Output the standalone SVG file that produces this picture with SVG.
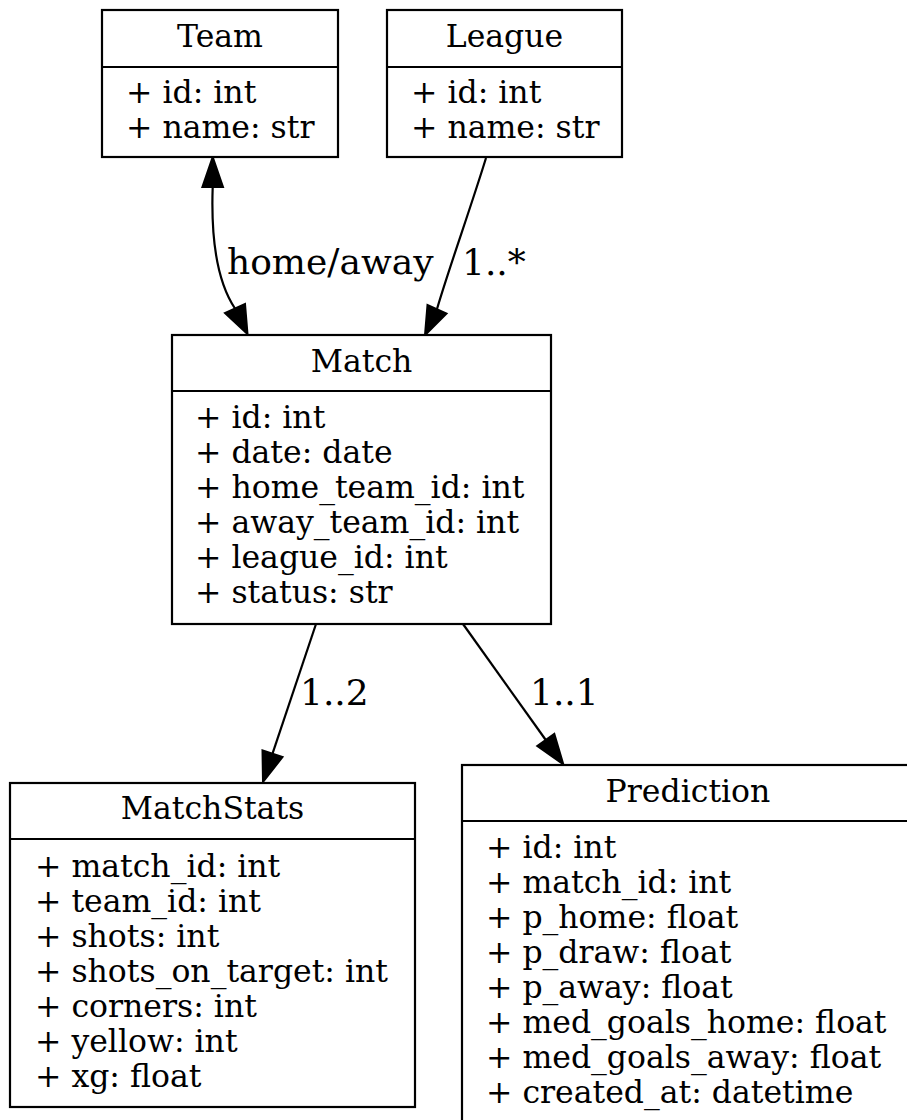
<svg xmlns="http://www.w3.org/2000/svg" width="907" height="1120" viewBox="0 0 907 1120">
  <style>
    .box { fill: #ffffff; stroke: #000000; stroke-width: 2.2; }
    .sep { stroke: #000000; stroke-width: 2.2; }
    .edge { fill: none; stroke: #000000; stroke-width: 2.2; }
    .head { fill: #000000; stroke: #000000; stroke-width: 2; stroke-linejoin: miter; }
    text { font-family: "DejaVu Serif", "Liberation Serif", serif; font-size: 31.5px; fill: #000000; }
    .title { text-anchor: middle; }
    .lbl { font-size: 36px; }
  </style>
  <rect x="0" y="0" width="907" height="1120" fill="#ffffff"/>

  <g id="connectors">
    <!-- Team <-> Match -->
    <path class="edge" d="M212.7,187 C211,235 216,280 235,308.5"/>
    <polygon class="head" points="212.7,157 223,187 202.4,187"/>
    <polygon class="head" points="247.5,334 225,313 245,304"/>
    <text class="lbl" x="227" y="274">home/away</text>
    <!-- League -> Match -->
    <path class="edge" d="M486,158 C470,210 450,265 437,309"/>
    <polygon class="head" points="425,335 427.5,305 446.5,313.5"/>
    <text class="lbl" x="462" y="275">1..*</text>
    <!-- Match -> MatchStats -->
    <path class="edge" d="M316,624 L272.5,753.6"/>
    <polygon class="head" points="263,782 262.5,750.3 282.5,757"/>
    <text class="lbl" x="300" y="705">1..2</text>
    <!-- Match -> Prediction -->
    <path class="edge" d="M463,624 L545.8,740"/>
    <polygon class="head" points="563.3,764.3 537.3,746.1 554.3,733.9"/>
    <text class="lbl" x="530" y="705">1..1</text>
  </g>

  <g id="team">
    <rect class="box" x="102" y="10" width="236" height="147"/>
    <line class="sep" x1="102" y1="67" x2="338" y2="67"/>
    <text class="title" x="220" y="47">Team</text>
    <text x="126" y="103">+ id: int</text>
    <text x="126" y="138">+ name: str</text>
  </g>

  <g id="league">
    <rect class="box" x="387" y="10" width="235" height="147"/>
    <line class="sep" x1="387" y1="67" x2="622" y2="67"/>
    <text class="title" x="504.5" y="47">League</text>
    <text x="411" y="103">+ id: int</text>
    <text x="411" y="138">+ name: str</text>
  </g>

  <g id="match">
    <rect class="box" x="172" y="335" width="379" height="289"/>
    <line class="sep" x1="172" y1="391" x2="551" y2="391"/>
    <text class="title" x="361.5" y="372">Match</text>
    <text x="195" y="428">+ id: int</text>
    <text x="195" y="463">+ date: date</text>
    <text x="195" y="498">+ home_team_id: int</text>
    <text x="195" y="533">+ away_team_id: int</text>
    <text x="195" y="568">+ league_id: int</text>
    <text x="195" y="603">+ status: str</text>
  </g>

  <g id="matchstats">
    <rect class="box" x="10" y="783" width="405" height="324"/>
    <line class="sep" x1="10" y1="839" x2="415" y2="839"/>
    <text class="title" x="212.5" y="819">MatchStats</text>
    <text x="35" y="877">+ match_id: int</text>
    <text x="35" y="912">+ team_id: int</text>
    <text x="35" y="947">+ shots: int</text>
    <text x="35" y="982">+ shots_on_target: int</text>
    <text x="35" y="1017">+ corners: int</text>
    <text x="35" y="1052">+ yellow: int</text>
    <text x="35" y="1087">+ xg: float</text>
  </g>

  <g id="prediction">
    <rect class="box" x="462" y="765" width="452" height="370"/>
    <line class="sep" x1="462" y1="821" x2="914" y2="821"/>
    <text class="title" x="688" y="802">Prediction</text>
    <text x="486" y="858">+ id: int</text>
    <text x="486" y="893">+ match_id: int</text>
    <text x="486" y="928">+ p_home: float</text>
    <text x="486" y="963">+ p_draw: float</text>
    <text x="486" y="998">+ p_away: float</text>
    <text x="486" y="1033">+ med_goals_home: float</text>
    <text x="486" y="1068">+ med_goals_away: float</text>
    <text x="486" y="1103">+ created_at: datetime</text>
  </g>
</svg>
